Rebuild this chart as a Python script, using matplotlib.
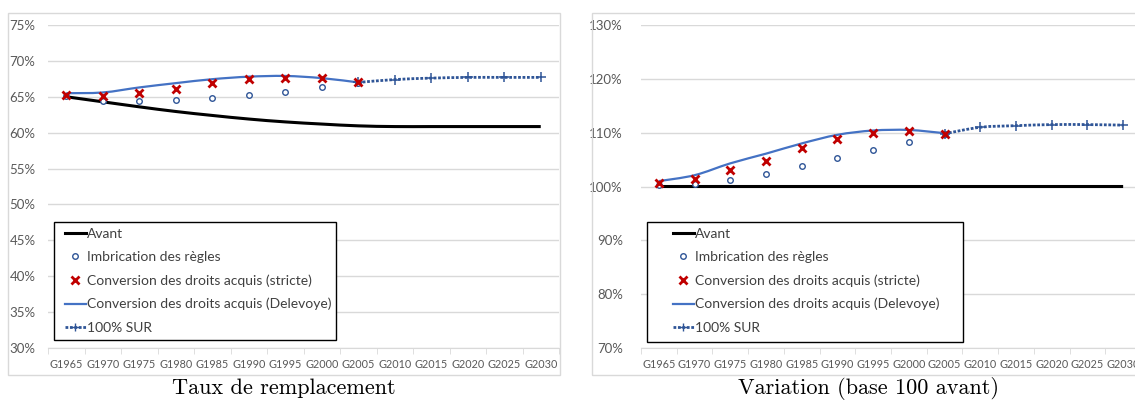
import matplotlib
matplotlib.use("Agg")
import matplotlib.pyplot as plt
from matplotlib.path import Path
from matplotlib.patches import PathPatch, Rectangle
from matplotlib.lines import Line2D
from matplotlib.ticker import FuncFormatter, FixedLocator
import numpy as np

plt.rcParams["font.family"] = ["Lato", "DejaVu Sans"]

generations = ["G1965", "G1970", "G1975", "G1980", "G1985", "G1990", "G1995",
               "G2000", "G2005", "G2010", "G2015", "G2020", "G2025", "G2030"]

# Taux de remplacement (%)
taux_avant = [65.0, 64.3, 63.6, 62.95, 62.4, 61.9, 61.5, 61.2, 60.95,
              60.85, 60.85, 60.85, 60.85, 60.85]
taux_imbrication = [65.1, 64.4, 64.4, 64.6, 64.8, 65.2, 65.65, 66.3, 66.9]
taux_stricte = [65.3, 65.1, 65.5, 66.05, 66.9, 67.45, 67.6, 67.6, 67.0]
taux_delevoye = [65.5, 65.6, 66.3, 66.9, 67.45, 67.8, 67.9, 67.6, 67.0]
taux_sur = [67.0, 67.4, 67.6, 67.7, 67.7, 67.7]

# Variation (base 100 avant, %)
var_avant = [100.0] * 14
var_imbrication = [100.2, 100.5, 101.2, 102.4, 103.8, 105.3, 106.8, 108.3, 109.8]
var_stricte = [100.7, 101.4, 103.0, 104.7, 107.1, 108.9, 109.9, 110.4, 109.8]
var_delevoye = [101.0, 102.1, 104.3, 106.1, 108.0, 109.6, 110.4, 110.5, 109.9]
var_sur = [109.8, 111.0, 111.3, 111.5, 111.5, 111.4]

legend_labels = ["Avant", "Imbrication des règles",
                 "Conversion des droits acquis (stricte)",
                 "Conversion des droits acquis (Delevoye)", "100% SUR"]

BLUE = "#4472C4"
DARK_BLUE = "#2F5597"
RED = "#C00000"
GRID = "#D9D9D9"
TXT = "#595959"

W, H = 1135, 401
fig = plt.figure(figsize=(W / 100, H / 100), dpi=100)


def px_rect(x0, y0, x1, y1):
    """pixel box (top-left origin) -> figure fraction [l, b, w, h]"""
    return [x0 / W, 1 - y1 / H, (x1 - x0) / W, (y1 - y0) / H]


def smooth(x, y):
    """Excel-like smoothed curve through the points as cubic Bezier segments."""
    pts = np.column_stack([x, y]).astype(float)
    n = len(pts)
    verts = [pts[0]]
    codes = [Path.MOVETO]
    for i in range(n - 1):
        p0 = pts[i - 1] if i > 0 else pts[i]
        p1, p2 = pts[i], pts[i + 1]
        p3 = pts[i + 2] if i + 2 < n else pts[i + 1]
        c1 = p1 + (p2 - p0) / 6.0
        c2 = p2 - (p3 - p1) / 6.0
        verts += [c1, c2, p2]
        codes += [Path.CURVE4] * 3
    return Path(verts, codes)


def panel(frame, plot, ylim, step, ypad, avant, imbr, stricte, delev, sur,
          legend_box, legend_x, title):
    fx0, fy0, fx1, fy1 = frame
    fig.patches.append(Rectangle((fx0 / W, 1 - fy1 / H), (fx1 - fx0) / W, (fy1 - fy0) / H,
                                 transform=fig.transFigure, fill=False,
                                 edgecolor=GRID, linewidth=1.0))
    ax = fig.add_axes(px_rect(*plot))
    ax.set_xlim(-0.5, len(generations) - 0.5)
    ax.set_ylim(*ylim)
    for s in ("top", "right", "left"):
        ax.spines[s].set_visible(False)
    ax.spines["bottom"].set_color(GRID)
    ax.yaxis.set_major_locator(FixedLocator(np.arange(ylim[0], ylim[1] + 0.01, step)))
    ax.yaxis.set_major_formatter(FuncFormatter(lambda v, _: f"{v:.0f}%"))
    ax.tick_params(axis="y", length=0, labelsize=9.5, labelcolor=TXT, pad=ypad)
    ax.grid(axis="y", color=GRID, linewidth=1.0)
    ax.set_axisbelow(True)
    ax.set_xticks(range(len(generations)))
    ax.set_xticklabels(generations)
    ax.set_xticks(np.arange(-0.5, len(generations)), minor=True)
    ax.tick_params(axis="x", which="major", length=0, labelsize=7.8, labelcolor=TXT, pad=8)
    ax.tick_params(axis="x", which="minor", length=4, color=GRID, direction="out")

    xs = np.arange(len(generations))
    ax.add_patch(PathPatch(smooth(xs, avant), fill=False, edgecolor="black",
                           linewidth=2.2, zorder=3))
    ax.add_patch(PathPatch(smooth(xs[:len(delev)], delev), fill=False, edgecolor=BLUE,
                           linewidth=1.6, zorder=4))
    x_sur = xs[len(delev) - 1:]
    ax.add_patch(PathPatch(smooth(x_sur, sur), fill=False, edgecolor=DARK_BLUE,
                           linewidth=2.0, linestyle=(0, (1, 0.6)), zorder=4))
    ax.plot(x_sur, sur, linestyle="none", marker="+", markersize=7, color=DARK_BLUE,
            markeredgewidth=1.1, zorder=5)
    ax.plot(xs[:len(imbr)], imbr, linestyle="none", marker="o", markersize=4,
            markerfacecolor="white", markeredgecolor=DARK_BLUE, markeredgewidth=1.0, zorder=5)
    ax.plot(xs[:len(stricte)], stricte, linestyle="none", marker="x", markersize=6,
            color=RED, markeredgewidth=2.0, zorder=6)

    # legend box drawn separately so the entries can sit where they belong inside it
    lx0, ly0, lx1, ly1 = legend_box
    ax.add_patch(Rectangle((lx0 / W, 1 - ly1 / H), (lx1 - lx0) / W, (ly1 - ly0) / H,
                           transform=fig.transFigure, facecolor="white",
                           edgecolor="black", linewidth=1.0, clip_on=False, zorder=9))
    handles = [
        Line2D([], [], color="black", linewidth=2.2),
        Line2D([], [], linestyle="none", marker="o", markersize=4, markerfacecolor="white",
               markeredgecolor=DARK_BLUE, markeredgewidth=1.0),
        Line2D([], [], linestyle="none", marker="x", markersize=6, color=RED,
               markeredgewidth=2.0),
        Line2D([], [], color=BLUE, linewidth=1.6),
        Line2D([], [], color=DARK_BLUE, linewidth=2.0, linestyle=(0, (1, 0.6)),
               marker="+", markersize=6, markeredgewidth=1.0),
    ]
    leg = ax.legend(handles, legend_labels, loc="upper left",
                    bbox_to_anchor=(legend_x / W, 1 - (ly0 + 6) / H),
                    bbox_transform=fig.transFigure, borderaxespad=0, borderpad=0,
                    fontsize=10, frameon=False, handlelength=1.5, handletextpad=0.1,
                    labelspacing=0.8, labelcolor="#404040")
    leg.set_zorder(10)

    fig.text((fx0 + fx1) / 2 / W, 1 - 388 / H, title, ha="center", va="center",
             fontsize=16, family="cmr10")
    return ax


panel((8, 13, 560, 375), (48, 25, 559, 348), (30, 75), 5, 9,
      taux_avant, taux_imbrication, taux_stricte, taux_delevoye, taux_sur,
      (54, 222, 336, 340), 65, "Taux de remplacement")
panel((592, 13, 1145, 375), (641, 25, 1141, 348), (70, 130), 10, 13,
      var_avant, var_imbrication, var_stricte, var_delevoye, var_sur,
      (647, 222, 963, 342), 673, "Variation (base 100 avant)")

fig.savefig("out.png", dpi=100)
